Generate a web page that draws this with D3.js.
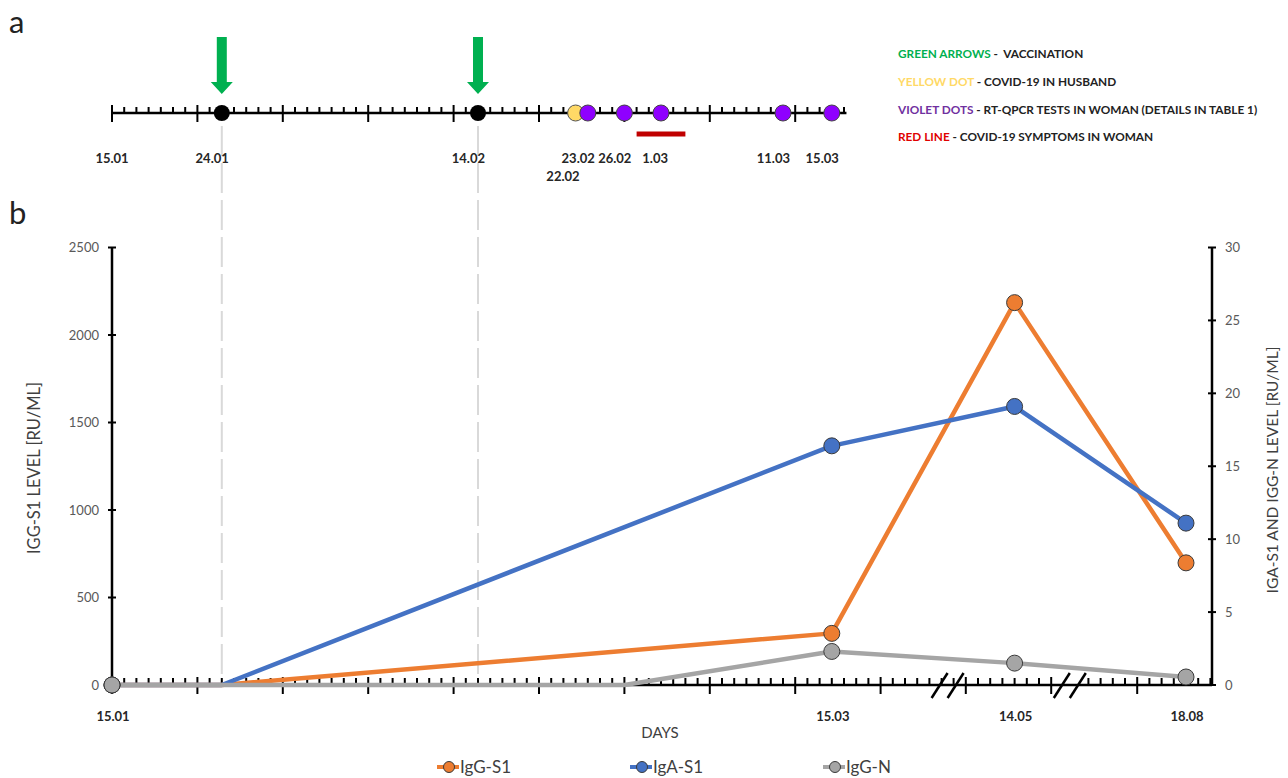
<!DOCTYPE html>
<html>
<head>
<meta charset="utf-8">
<script src="https://cdn.jsdelivr.net/npm/d3@7"></script>
<style>
body{margin:0;background:#fff;}
svg{display:block;font-family:Lato,"Open Sans",sans-serif;}
</style>
</head>
<body>
<svg id="chart" width="1288" height="778"></svg>
<script>
// ---- data (dates are dd.mm, year 2021) ----
var vaccinationDates = ["24.01", "14.02"];
var husbandDates = ["22.02"];
var pcrDates = ["23.02", "26.02", "1.03", "11.03", "15.03"];
var symptomRange = ["27.02", "3.03"];
var timelineLabels = ["15.01", "24.01", "14.02", "23.02", "26.02", "1.03", "11.03", "15.03"];
var timelineLabels2 = ["22.02"];
var timelineEnd = "15.03";

var noteKeys = ["GREEN ARROWS", "YELLOW DOT", "VIOLET DOTS", "RED LINE"];
var noteTexts = [" -  VACCINATION", " - COVID-19 IN HUSBAND", " - RT-QPCR TESTS IN WOMAN (DETAILS IN TABLE 1)", " - COVID-19 SYMPTOMS IN WOMAN"];

var sampleDates = ["15.01", "15.03", "14.05", "18.08"];
var xAxisLabels = ["15.01", "15.03", "14.05", "18.08"];
var iggS1Dates = ["15.01", "24.01", "15.03", "14.05", "18.08"];
var iggS1 = [0, 0, 295, 2185, 698];
var igaS1Dates = ["15.01", "24.01", "15.03", "14.05", "18.08"];
var igaS1 = [0, 0, 16.4, 19.1, 11.1];
var iggNDates = ["15.01", "26.02", "15.03", "14.05", "18.08"];
var iggN = [0, 0, 2.3, 1.5, 0.55];
var seriesNames = ["IgG-S1", "IgA-S1", "IgG-N"];
var leftTicks = [0, 500, 1000, 1500, 2000, 2500];
var rightTicks = [0, 5, 10, 15, 20, 25, 30];
// visible day ranges of the broken x axis (days after 15.01) and the first major tick in each
var axisSegments = [[0, 68], [114, 122.5], [206.5, 217]];
var segmentMajor = [0, 115, 211];

// ---- layout ----
var pxDay = 12.2, x0 = 112, gaps = [0, 12, 25];
var tlY = 113, axY = 685, topY = 247.5, rightX = 1212;
var cOrange = "#ED7D31", cBlue = "#4472C4", cGray = "#A5A5A5";
var noteColors = ["#00B050", "#FFD966", "#7030A0", "#E00000"];

function dayOf(s) {
  var p = s.split(".");
  return Math.round((Date.UTC(2021, +p[1] - 1, +p[0]) - Date.UTC(2021, 0, 15)) / 864e5);
}

var dom = [], rng = [], cur = x0;
axisSegments.forEach(function(s, i) {
  cur += gaps[i];
  dom.push(s[0], s[1]);
  rng.push(cur, cur + (s[1] - s[0]) * pxDay);
  cur += (s[1] - s[0]) * pxDay;
});
var x = d3.scaleLinear().domain(dom).range(rng);
var yL = d3.scaleLinear().domain([0, 2500]).range([axY, topY]);
var yR = d3.scaleLinear().domain([0, 30]).range([axY, topY]);

var svg = d3.select("#chart");

// panel letters
svg.append("text").attr("x", 9).attr("y", 33).attr("font-size", 31).attr("fill", "#222").text("a");
svg.append("text").attr("x", 9).attr("y", 224).attr("font-size", 31).attr("fill", "#222").text("b");

// dashed guides from vaccinations down to x axis
svg.selectAll("line.guide").data(vaccinationDates).enter().append("line")
  .attr("x1", function(d) { return x(dayOf(d)); }).attr("x2", function(d) { return x(dayOf(d)); })
  .attr("y1", 126).attr("y2", axY)
  .attr("stroke", "#d9d9d9").attr("stroke-width", 2).attr("stroke-dasharray", "30,7");

// ---- timeline (panel a) ----
var tlDays = d3.range(0, dayOf(timelineEnd) + 2);
svg.append("line").attr("x1", x(0)).attr("x2", x(dayOf(timelineEnd) + 1.2))
  .attr("y1", tlY).attr("y2", tlY).attr("stroke", "#000").attr("stroke-width", 2.5);
svg.selectAll("line.tltick").data(tlDays).enter().append("line")
  .attr("x1", function(d) { return x(d); }).attr("x2", function(d) { return x(d); })
  .attr("y1", function(d) { return d % 7 == 0 ? tlY - 8 : tlY - 6; })
  .attr("y2", function(d) { return d % 7 == 0 ? tlY + 9 : tlY; })
  .attr("stroke", "#000").attr("stroke-width", 2);

svg.append("line").attr("x1", x(dayOf(symptomRange[0]))).attr("x2", x(dayOf(symptomRange[1])))
  .attr("y1", 134).attr("y2", 134).attr("stroke", "#C00000").attr("stroke-width", 5);

svg.selectAll("path.arrow").data(vaccinationDates).enter().append("path")
  .attr("d", function(d) {
    var cx = x(dayOf(d));
    return "M" + (cx - 5) + ",37 L" + (cx + 5) + ",37 L" + (cx + 5) + ",82 L" + (cx + 11) + ",82 L" + cx + ",94 L" +
      (cx - 11) + ",82 L" + (cx - 5) + ",82 Z";
  })
  .attr("fill", "#00B050");

svg.selectAll("circle.vac").data(vaccinationDates).enter().append("circle")
  .attr("cx", function(d) { return x(dayOf(d)); }).attr("cy", tlY).attr("r", 8).attr("fill", "#000");
svg.selectAll("circle.hus").data(husbandDates).enter().append("circle")
  .attr("cx", function(d) { return x(dayOf(d)); }).attr("cy", tlY).attr("r", 8)
  .attr("fill", "#FFD966").attr("stroke", "#555").attr("stroke-width", 1);
svg.selectAll("circle.pcr").data(pcrDates).enter().append("circle")
  .attr("cx", function(d) { return x(dayOf(d)); }).attr("cy", tlY).attr("r", 8)
  .attr("fill", "#8F00FF").attr("stroke", "#444").attr("stroke-width", 1);

svg.selectAll("text.tllab").data(timelineLabels).enter().append("text")
  .attr("x", function(d, i) { return i == 0 ? x(dayOf(d)) : x(dayOf(d)) + 7; })
  .attr("y", 163)
  .attr("text-anchor", function(d, i) { return i == 0 ? "middle" : "end"; })
  .attr("font-size", 13).attr("font-weight", "bold").attr("fill", "#262626").text(function(d) { return d; });
svg.selectAll("text.tllab2").data(timelineLabels2).enter().append("text")
  .attr("x", function(d) { return x(dayOf(d)) + 4; }).attr("y", 181).attr("text-anchor", "end")
  .attr("font-size", 13).attr("font-weight", "bold").attr("fill", "#262626").text(function(d) { return d; });

var notes = svg.selectAll("text.note").data(noteKeys).enter().append("text")
  .attr("x", 898).attr("y", function(d, i) { return 58 + i * 27.8; })
  .attr("font-size", 11.8).attr("font-weight", "bold").attr("fill", "#222");
notes.append("tspan").attr("fill", function(d, i) { return noteColors[i]; }).text(function(d) { return d; });
notes.append("tspan").style("white-space", "pre").text(function(d, i) { return noteTexts[i]; });

// ---- antibody chart (panel b) ----
// y axes
[[x0, yL, leftTicks, -1], [rightX, yR, rightTicks, 1]].forEach(function(a) {
  var ax = a[0], sc = a[1], ticks = a[2], side = a[3];
  svg.append("line").attr("x1", ax).attr("x2", ax).attr("y1", topY).attr("y2", axY)
    .attr("stroke", "#000").attr("stroke-width", 2.5);
  svg.selectAll(null).data(ticks).enter().append("line")
    .attr("x1", ax - 4).attr("x2", ax + 4)
    .attr("y1", function(d) { return sc(d); }).attr("y2", function(d) { return sc(d); })
    .attr("stroke", "#000").attr("stroke-width", 2);
  svg.selectAll(null).data(ticks).enter().append("text")
    .attr("x", ax + side * 13).attr("y", function(d) { return sc(d); }).attr("dy", "0.35em")
    .attr("text-anchor", side < 0 ? "end" : "start")
    .attr("font-size", 13).attr("fill", "#595959").text(function(d) { return d; });
});

svg.append("text").attr("transform", "translate(40,468) rotate(-90)").attr("text-anchor", "middle")
  .attr("font-size", 16.5).attr("fill", "#404040").text("IGG-S1 LEVEL [RU/ML]");
svg.append("text").attr("transform", "translate(1278,470) rotate(-90)").attr("text-anchor", "middle")
  .attr("font-size", 15.5).attr("fill", "#404040").text("IGA-S1 AND IGG-N LEVEL [RU/ML]");

// x axis
svg.append("line").attr("x1", x0).attr("x2", rightX).attr("y1", axY).attr("y2", axY)
  .attr("stroke", "#000").attr("stroke-width", 2.5);
var xTicks = [];
axisSegments.forEach(function(s, i) {
  d3.range(Math.ceil(s[0]), Math.floor(s[1]) + 1).forEach(function(d) {
    xTicks.push({ d: d, major: (d - segmentMajor[i]) % 7 == 0 });
  });
});
svg.selectAll("line.xtick").data(xTicks).enter().append("line")
  .attr("x1", function(t) { return x(t.d); }).attr("x2", function(t) { return x(t.d); })
  .attr("y1", function(t) { return t.major ? axY - 8 : axY - 7; })
  .attr("y2", function(t) { return t.major ? axY + 9 : axY; })
  .attr("stroke", "#000").attr("stroke-width", 2);
// break marks: two slashes around the middle of each gap
var breaks = [];
for (var i = 1; i < axisSegments.length; i++) {
  var mid = (x(axisSegments[i - 1][1]) + x(axisSegments[i][0])) / 2;
  breaks.push(mid - 8, mid + 8);
}
svg.selectAll("line.brk").data(breaks).enter().append("line")
  .attr("x1", function(d) { return d - 8; }).attr("x2", function(d) { return d + 8; })
  .attr("y1", axY + 13).attr("y2", axY - 12)
  .attr("stroke", "#000").attr("stroke-width", 2.5);

svg.selectAll("text.xlab").data(xAxisLabels).enter().append("text")
  .attr("x", function(d) { return x(dayOf(d)) + 1; }).attr("y", 721).attr("text-anchor", "middle")
  .attr("font-size", 13).attr("font-weight", "bold").attr("fill", "#262626").text(function(d) { return d; });
svg.append("text").attr("x", 660).attr("y", 738).attr("text-anchor", "middle")
  .attr("font-size", 15).attr("fill", "#404040").text("DAYS");

// series
var series = [
  { name: seriesNames[0], dates: iggS1Dates, vals: iggS1, y: yL, color: cOrange },
  { name: seriesNames[1], dates: igaS1Dates, vals: igaS1, y: yR, color: cBlue },
  { name: seriesNames[2], dates: iggNDates, vals: iggN, y: yR, color: cGray }
];
var line = d3.line().x(function(p) { return p.x; }).y(function(p) { return p.y; });
series.forEach(function(s) {
  s.pts = s.dates.map(function(d, i) { return { x: x(dayOf(d)), y: s.y(s.vals[i]), date: d }; });
  svg.append("path").attr("d", line(s.pts)).attr("fill", "none")
    .attr("stroke", s.color).attr("stroke-width", 4.5).attr("stroke-linejoin", "round");
});
series.forEach(function(s) {
  svg.selectAll(null).data(s.pts.filter(function(p) { return sampleDates.indexOf(p.date) >= 0; }))
    .enter().append("circle")
    .attr("cx", function(p) { return p.x; }).attr("cy", function(p) { return p.y; }).attr("r", 8)
    .attr("fill", s.color).attr("stroke", "#3a3a3a").attr("stroke-width", 1);
});

// legend
var leg = svg.selectAll("g.leg").data(series).enter().append("g")
  .attr("transform", function(d, i) { return "translate(" + (437 + i * 193) + ",767)"; });
leg.append("line").attr("x1", 0).attr("x2", 22).attr("stroke", function(d) { return d.color; }).attr("stroke-width", 4);
leg.append("circle").attr("cx", 12).attr("r", 5.5).attr("fill", function(d) { return d.color; })
  .attr("stroke", "#3a3a3a").attr("stroke-width", 1);
leg.append("text").attr("x", 23).attr("dy", "0.35em").attr("font-size", 17).attr("fill", "#404040")
  .text(function(d) { return d.name; });
</script>
</body>
</html>
